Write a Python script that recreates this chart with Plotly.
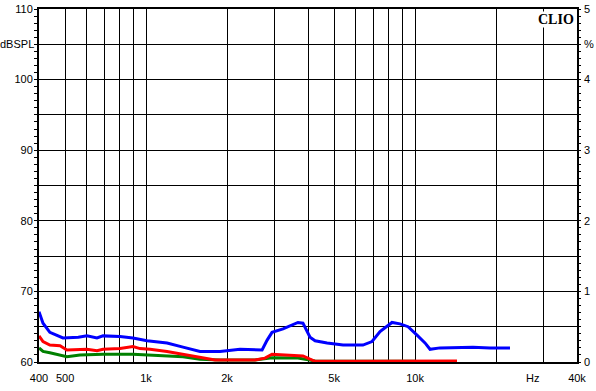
import plotly.graph_objects as go
import math

# ---- data ----
blue_f = [400, 414, 439, 491, 560, 603, 657, 692, 800, 894, 1008, 1197, 1372, 1587, 1884, 2235, 2700,
          2820, 2940, 3230, 3670, 3830, 4070, 4250, 4710, 5400, 6400, 6920, 7410, 8210, 8790, 9420,
          10170, 10890, 11370, 12380, 16420, 19000, 22540]
blue_db = [67.1, 65.5, 64.2, 63.4, 63.5, 63.7, 63.4, 63.7, 63.6, 63.4, 63.0, 62.7, 62.1, 61.5, 61.5, 61.8, 61.7,
           63.1, 64.2, 64.7, 65.6, 65.5, 63.5, 63.0, 62.7, 62.4, 62.4, 62.9, 64.3, 65.6, 65.4, 65.0,
           63.8, 62.7, 61.8, 62.0, 62.1, 62.0, 62.0]

red_f = [400, 414, 439, 479, 508, 568, 603, 657, 692, 800, 894, 950, 1035, 1197, 1372, 1587, 1805,
         2541, 2768, 2940, 3430, 3831, 4069, 4248, 6000, 10000, 14320]
red_db = [63.7, 62.9, 62.4, 62.3, 61.7, 61.7, 61.8, 61.6, 61.8, 61.9, 62.2, 61.9, 61.8, 61.5, 61.1, 60.75, 60.3,
          60.3, 60.55, 61.1, 61.0, 60.85, 60.4, 60.1, 60.1, 60.15, 60.15]

green_f = [400, 414, 439, 479, 508, 568, 692, 894, 1008, 1197, 1372, 1587, 1884, 2541, 2768, 2940,
           3670, 4069, 4248, 6000, 10000]
green_db = [62.0, 61.5, 61.3, 61.0, 60.75, 61.0, 61.1, 61.1, 61.0, 60.9, 60.75, 60.4, 60.3, 60.3, 60.5, 60.6,
            60.55, 60.3, 60.15, 60.1, 60.1]

x_grid = [400, 500, 600, 700, 800, 900, 1000, 2000, 3000, 4000, 5000, 6000, 7000, 8000, 9000,
          10000, 20000, 30000, 40000]
x_labels = {400: "400", 500: "500", 1000: "1k", 2000: "2k", 5000: "5k", 10000: "10k", 40000: "40k"}
y_grid = [60, 65, 70, 75, 80, 85, 90, 95, 100, 105, 110]
y_labels = {60: "60", 70: "70", 80: "80", 90: "90", 100: "100", 110: "110"}
pct_ticks = [0, 1, 2, 3, 4, 5]

fig = go.Figure()
fig.add_trace(go.Scatter(x=green_f, y=green_db, mode="lines",
                         line=dict(color="#008000", width=3), showlegend=False))
fig.add_trace(go.Scatter(x=red_f, y=red_db, mode="lines",
                         line=dict(color="#ff0000", width=3), showlegend=False))
fig.add_trace(go.Scatter(x=blue_f, y=blue_db, mode="lines",
                         line=dict(color="#0000ff", width=3), showlegend=False))
# invisible trace for right axis
fig.add_trace(go.Scatter(x=[400], y=[0], yaxis="y2", mode="markers",
                         marker=dict(opacity=0), showlegend=False, hoverinfo="skip"))

font = dict(family="Liberation Sans, Arial, sans-serif", size=11, color="#000000")

fig.update_layout(
    width=596, height=391,
    margin=dict(l=39, r=19, t=9, b=29, autoexpand=False),
    paper_bgcolor="white", plot_bgcolor="white",
    font=font,
    xaxis=dict(type="log", range=[math.log10(400), math.log10(40000)],
               tickmode="array", tickvals=x_grid,
               ticktext=[x_labels.get(v, "") for v in x_grid],
               showgrid=True, gridcolor="black", gridwidth=1,
               showline=True, linecolor="black", linewidth=2, mirror=True,
               ticks="", zeroline=False, tickfont=font, ticklabelstandoff=5,
               automargin=False),
    yaxis=dict(range=[60, 110], tickmode="array", tickvals=y_grid,
               ticktext=[y_labels.get(v, "") for v in y_grid],
               showgrid=True, gridcolor="black", gridwidth=1,
               showline=True, linecolor="black", linewidth=2, mirror=True,
               ticks="", zeroline=False, tickfont=font, ticklabelstandoff=2,
               automargin=False,
               minor=dict(dtick=1, tick0=60, ticks="outside", ticklen=3,
                          tickcolor="black", tickwidth=1, showgrid=False)),
    yaxis2=dict(range=[0, 5], overlaying="y", side="right",
                tickmode="array", tickvals=pct_ticks,
                ticktext=[str(v) for v in pct_ticks],
                showgrid=False, zeroline=False, ticks="", tickfont=font,
                ticklabelstandoff=6, automargin=False,
                minor=dict(dtick=0.1, tick0=0, ticks="outside", ticklen=3,
                           tickcolor="black", tickwidth=1, showgrid=False)),
    annotations=[
        dict(text="dBSPL", xref="paper", yref="y", x=0, y=105, xanchor="right",
             yanchor="middle", xshift=-3, showarrow=False, font=font),
        dict(text="%", xref="paper", yref="y", x=1, y=105, xanchor="left",
             yanchor="middle", xshift=5, showarrow=False, font=font),
        dict(text="Hz", xref="paper", yref="paper", x=(532 - 39) / 538, y=0,
             xanchor="center", yanchor="top", yshift=-8, showarrow=False, font=font),
        dict(text="<b>CLIO</b>", xref="paper", yref="paper", x=1, y=1,
             xanchor="right", yanchor="top", xshift=-2, yshift=-2, showarrow=False,
             bgcolor="white", borderpad=0,
             font=dict(family="Liberation Serif, Times New Roman, serif", size=14, color="black")),
    ],
)

fig.write_html("out.html")
